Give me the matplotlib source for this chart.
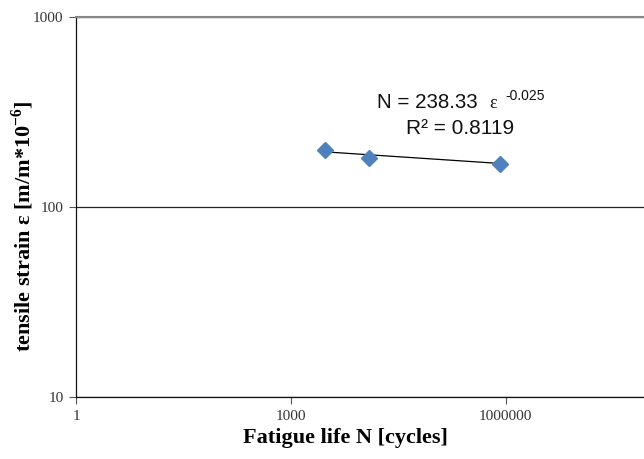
import numpy as np
import matplotlib
matplotlib.use("Agg")
import matplotlib.pyplot as plt
from matplotlib.ticker import FixedLocator, FixedFormatter, NullLocator

plt.rcParams["mathtext.fontset"] = "custom"
plt.rcParams["mathtext.rm"] = "Liberation Serif"
plt.rcParams["mathtext.bf"] = "Liberation Serif:bold"

# Data
fatigue_life = [3000, 12400, 835000]      # N [cycles]
tensile_strain = [199.5, 180.5, 168.0]    # eps [m/m*10^-6]
trend_coef = 238.33
trend_exp = -0.025
r_squared = 0.8119
x_ticks = [1, 1000, 1000000]
x_tick_labels = ["1", "1000", "1000000"]
y_ticks = [10, 100, 1000]
y_tick_labels = ["10", "100", "1000"]

W, H = 644, 459
fig = plt.figure(figsize=(W / 100, H / 100), dpi=100)
x0, x1 = 76, 76 + 9 * 71.6
y_top, y_bot = 17, 397
ax = fig.add_axes([x0 / W, 1 - y_bot / H, (x1 - x0) / W, (y_bot - y_top) / H])
ax.set_xscale("log")
ax.set_yscale("log")
ax.set_xlim(1, 1e9)
ax.set_ylim(10, 1000)

ax.xaxis.set_major_locator(FixedLocator(x_ticks))
ax.xaxis.set_major_formatter(FixedFormatter(x_tick_labels))
ax.xaxis.set_minor_locator(NullLocator())
ax.yaxis.set_major_locator(FixedLocator(y_ticks))
ax.yaxis.set_major_formatter(FixedFormatter(y_tick_labels))
ax.yaxis.set_minor_locator(NullLocator())

serif = ["Liberation Serif", "DejaVu Serif"]
sans = ["Liberation Sans", "DejaVu Sans"]
for lab in ax.get_xticklabels() + ax.get_yticklabels():
    lab.set_family(serif)
    lab.set_fontsize(11)
    lab.set_color("#333333")
ax.tick_params(axis="both", which="major", direction="out", length=5,
               width=0.8, color="#555555", pad=4)

ax.grid(axis="y", which="major", color="#222222", linewidth=0.9)
ax.set_axisbelow(True)
ax.spines["right"].set_visible(False)
ax.spines["top"].set_color("#888888")
ax.spines["top"].set_linewidth(1.5)
ax.spines["left"].set_color("#111111")
ax.spines["left"].set_linewidth(0.9)
ax.spines["bottom"].set_color("#111111")
ax.spines["bottom"].set_linewidth(0.9)

# Trendline (power), over the span of the data
xs = np.array([min(fatigue_life), max(fatigue_life)], dtype=float)
ax.plot(xs, trend_coef * xs ** trend_exp, color="black", linewidth=0.9, zorder=3)

ax.plot(fatigue_life, tensile_strain, linestyle="none", marker="D",
        markersize=8, color="#4F81BD", markeredgecolor="#4F81BD", zorder=4)

# Equation text
fig.text(377 / W, 1 - 108 / H, f"N = {trend_coef}", family=sans, fontsize=14.8,
         ha="left", va="baseline", color="#111111")
fig.text(489 / W, 1 - 108 / H, "\u03b5", family=serif, fontsize=13,
         ha="left", va="baseline", color="#111111")
fig.text(505 / W, 1 - 100 / H, f"{trend_exp}", family=sans, fontsize=10,
         ha="left", va="baseline", color="#111111")
fig.text(460 / W, 1 - 134 / H, f"R\u00b2 = {r_squared}", family=sans,
         fontsize=15, ha="center", va="baseline", color="#111111")

ax.set_xlabel("Fatigue life N [cycles]", family=serif, fontweight="bold",
              fontsize=16)
ax.xaxis.set_label_coords((345 - x0) / (x1 - x0), -(438 - y_bot) / (y_bot - y_top))
ax.xaxis.label.set_va("center")

fig.text(23 / W, 1 - 226 / H, r"tensile strain $\mathbf{\varepsilon}$ [m/m*10$^{\mathbf{-6}}$]",
         family=serif, fontweight="bold", fontsize=16, rotation=90,
         ha="center", va="center")

fig.savefig("out.png", dpi=100)
